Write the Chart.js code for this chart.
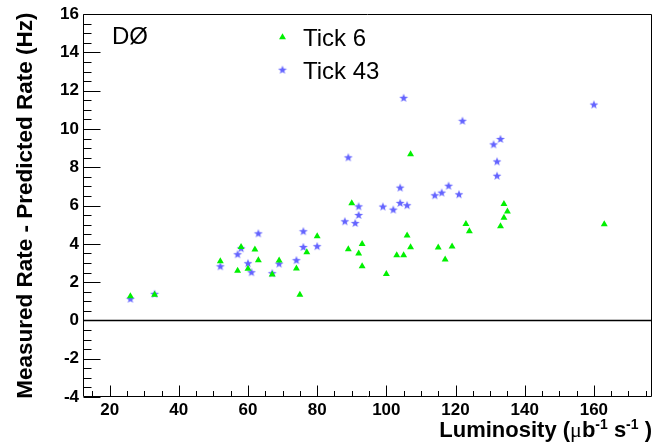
<!DOCTYPE html>
<html><head><meta charset="utf-8">
<script src="https://cdn.jsdelivr.net/npm/chart.js@4/dist/chart.umd.min.js"></script>
<style>html,body{margin:0;padding:0;background:#fff}</style>
</head><body>
<canvas id="c" width="672" height="444"></canvas>
<script>
// ---- data ----
const tick6Lum  = [26, 33, 52, 57, 58, 60, 62, 63, 67, 69, 74, 75, 77, 80, 89, 90, 92, 93, 93, 100, 103, 105, 106, 107, 107, 115, 117, 119, 123, 124, 133, 134, 134, 135, 163];
const tick6Rate = [1.27, 1.34, 3.09, 2.59, 3.84, 2.70, 3.70, 3.15, 2.40, 3.13, 2.71, 1.34, 3.56, 4.40, 3.72, 6.12, 3.50, 4.00, 2.83, 2.42, 3.41, 3.41, 4.44, 8.68, 3.82, 3.81, 3.18, 3.86, 5.04, 4.66, 4.92, 6.09, 5.37, 5.69, 5.02];
const tick43Lum  = [26, 33, 52, 57, 58, 60, 61, 63, 67, 69, 74, 76, 76, 80, 88, 89, 91, 92, 92, 99, 102, 104, 104, 105, 106, 114, 116, 118, 121, 122, 131, 132, 132, 133, 160];
const tick43Rate = [1.13, 1.39, 2.83, 3.46, 3.77, 2.99, 2.52, 4.55, 2.47, 2.97, 3.15, 4.66, 3.84, 3.88, 5.18, 8.52, 5.09, 5.96, 5.51, 5.95, 5.79, 6.14, 6.94, 11.63, 6.02, 6.54, 6.68, 7.04, 6.59, 10.43, 9.20, 8.31, 7.56, 9.48, 11.28];
const seriesNames = ['Tick 6', 'Tick 43'];
const xTickLabels = [20, 40, 60, 80, 100, 120, 140, 160];
const yTickLabels = [-4, -2, 0, 2, 4, 6, 8, 10, 12, 14, 16];
const yTitle = 'Measured Rate - Predicted Rate (Hz)';
const xTitleParts = [['Luminosity (', 0], ['\u03bc', 2], ['b', 0], ['-1', 1], [' s', 0], ['-1', 1], [' )', 0]];
const experimentLabel = 'D\u00d8';

// ---- styles ----
const FONT = '"Liberation Sans", Arial, Helvetica, sans-serif';
const GREEN = '#00f000';
const BLUE = '#6464ff';

function makeStar(color) {
  const c = document.createElement('canvas');
  c.width = 10; c.height = 10;
  const g = c.getContext('2d');
  g.fillStyle = color;
  g.beginPath();
  for (let i = 0; i < 10; i++) {
    const r = i % 2 === 0 ? 4.6 : 1.9;
    const a = -Math.PI / 2 + i * Math.PI / 5;
    const px = 5 + r * Math.cos(a), py = 5.3 + r * Math.sin(a);
    if (i === 0) g.moveTo(px, py); else g.lineTo(px, py);
  }
  g.closePath(); g.fill();
  return c;
}
const starImg = makeStar(BLUE);

const toPts = (xs, ys) => xs.map((v, i) => ({x: v, y: ys[i]}));

const decorPlugin = {
  id: 'decor',
  beforeDatasetsDraw(chart) {
    const {ctx, chartArea: a, scales: {y}} = chart;
    const y0 = y.getPixelForValue(0);
    ctx.save();
    ctx.strokeStyle = '#000'; ctx.lineWidth = 1.5;
    ctx.beginPath(); ctx.moveTo(a.left, y0); ctx.lineTo(a.right, y0); ctx.stroke();
    ctx.restore();
  },
  afterDraw(chart) {
    const {ctx, chartArea: a, scales: {x, y}} = chart;
    ctx.save();
    ctx.strokeStyle = '#000'; ctx.lineWidth = 1;
    // frame
    const L = Math.round(a.left) + 0.5, R = Math.round(a.right) - 0.5, T = Math.round(a.top) + 0.5, B = Math.round(a.bottom) - 0.5;
    ctx.beginPath(); ctx.rect(L, T, R - L, B - T); ctx.stroke();
    // y ticks (inside)
    ctx.beginPath();
    for (let k = 0; k <= 40; k++) {
      const v = -4 + k * 0.5;
      const py = Math.round(y.getPixelForValue(v)) + 0.5;
      const len = (k % 4 === 0) ? 17 : 8;
      ctx.moveTo(L, py); ctx.lineTo(L + len, py);
    }
    // x ticks (inside)
    for (let v = 15; v <= 175; v += 5) {
      const px = Math.round(x.getPixelForValue(v)) + 0.5;
      const len = (v % 20 === 0) ? 11 : 5.5;
      ctx.moveTo(px, B); ctx.lineTo(px, B - len);
    }
    ctx.stroke();

    // x title with superscripts, right-aligned to the frame
    const big = 'bold 22px ' + FONT, small = 'bold 14px ' + FONT, mu = '22px "Liberation Serif", serif';
    let w = 0;
    for (const [t, k] of xTitleParts) { ctx.font = k === 1 ? small : (k === 2 ? mu : big); w += ctx.measureText(t).width; }
    let cx = a.right - w;
    const base = a.bottom + 40;
    ctx.fillStyle = '#000'; ctx.textBaseline = 'alphabetic'; ctx.textAlign = 'left';
    for (const [t, k] of xTitleParts) {
      ctx.font = k === 1 ? small : (k === 2 ? mu : big);
      ctx.fillText(t, cx, k === 1 ? base - 8 : base);
      cx += ctx.measureText(t).width;
    }

    // experiment label
    ctx.font = '24px ' + FONT;
    ctx.fillText(experimentLabel, a.left + 29, a.top + 29.5);

    // legend
    const lx = a.left + 199.5;
    ctx.fillStyle = GREEN;
    ctx.beginPath();
    const ty = a.top + 23, r = 4;
    for (let i = 0; i < 3; i++) {
      const ang = -Math.PI / 2 + i * 2 * Math.PI / 3;
      const px = lx + r * Math.cos(ang), py = ty + r * Math.sin(ang);
      if (i === 0) ctx.moveTo(px, py); else ctx.lineTo(px, py);
    }
    ctx.closePath(); ctx.fill();
    ctx.drawImage(starImg, lx - 5, a.top + 55.5 - 5);
    ctx.fillStyle = '#000';
    ctx.font = '24px ' + FONT;
    ctx.fillText(seriesNames[0], a.left + 220, a.top + 31.5);
    ctx.fillText(seriesNames[1], a.left + 220, a.top + 64.5);
    ctx.restore();
  }
};

new Chart(document.getElementById('c'), {
  type: 'scatter',
  data: {
    datasets: [
      {label: seriesNames[0], data: toPts(tick6Lum, tick6Rate), pointStyle: 'triangle', pointRadius: 4, pointHoverRadius: 4,
       backgroundColor: GREEN, borderColor: GREEN, borderWidth: 0},
      {label: seriesNames[1], data: toPts(tick43Lum, tick43Rate), pointStyle: starImg, pointRadius: 5,
       backgroundColor: BLUE, borderColor: BLUE, borderWidth: 0}
    ]
  },
  options: {
    responsive: false, animation: false, devicePixelRatio: 1,
    layout: {padding: {left: 0, top: 11, right: 20, bottom: 0}},
    plugins: {legend: {display: false}, tooltip: {enabled: false}},
    scales: {
      x: {
        type: 'linear', min: 12.3, max: 176.8,
        afterBuildTicks: s => { s.ticks = xTickLabels.map(v => ({value: v})); },
        afterFit: s => { s.height = 47; },
        grid: {display: false, drawTicks: false}, border: {display: false},
        ticks: {color: '#000', font: {family: FONT, size: 17, weight: 'bold'}, padding: 3, maxRotation: 0,
                callback: v => String(v)}
      },
      y: {
        type: 'linear', min: -4, max: 16,
        afterBuildTicks: s => { s.ticks = yTickLabels.map(v => ({value: v})); },
        afterFit: s => { s.width = 83; },
        grid: {display: false, drawTicks: false}, border: {display: false},
        ticks: {color: '#000', font: {family: FONT, size: 17, weight: 'bold'}, padding: 4,
                callback: v => String(v)},
        title: {display: true, text: yTitle, color: '#000', font: {family: FONT, size: 22.5, weight: 'bold'}, padding: {top: 12, bottom: 0}}
      }
    }
  },
  plugins: [decorPlugin]
});
</script>
</body></html>
